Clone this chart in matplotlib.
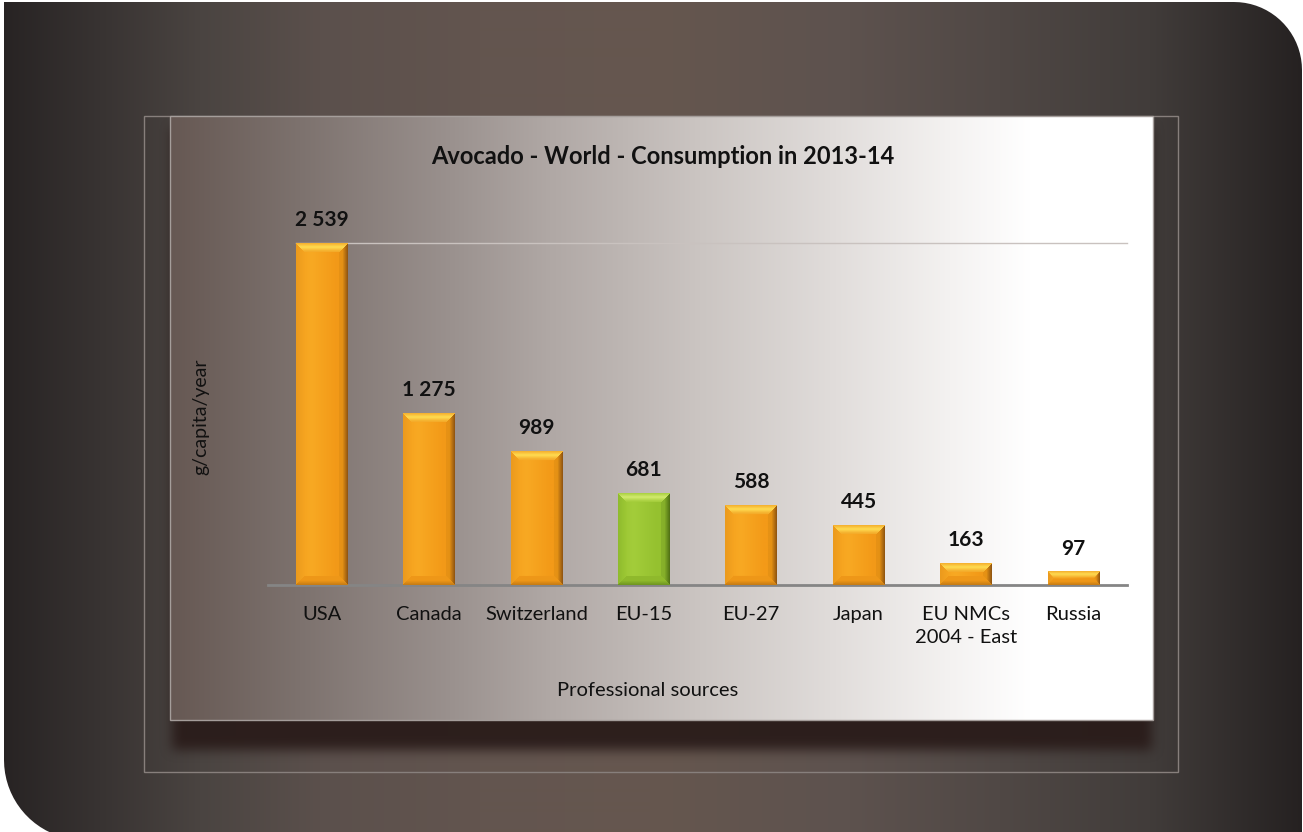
import numpy as np
import matplotlib
matplotlib.use("Agg")
import matplotlib.pyplot as plt
from matplotlib.path import Path
from matplotlib.patches import PathPatch, Rectangle
from matplotlib.colors import to_rgb

# ---------------- data ----------------
categories = ["USA", "Canada", "Switzerland", "EU-15", "EU-27", "Japan",
              "EU NMCs\n2004 - East", "Russia"]
values = [2539, 1275, 989, 681, 588, 445, 163, 97]
highlight = "EU-15"
title = "Avocado - World - Consumption in 2013-14"
ylabel = "g/capita/year"
xlabel = "Professional sources"

FONT = "Lato"
W_PX, H_PX = 1303, 832
fig = plt.figure(figsize=(W_PX / 100, H_PX / 100), dpi=100)
fig.patch.set_facecolor("white")

# ---------------- background layer (pixel coordinates) ----------------
bg = fig.add_axes([0, 0, 1, 1], zorder=0)
bg.set_xlim(0, W_PX)
bg.set_ylim(H_PX, 0)
bg.axis("off")


def hgrad(stops, width):
    xs = np.array([s[0] for s in stops], float)
    cols = np.array([to_rgb(s[1]) for s in stops])
    x = np.arange(width)
    out = np.stack([np.interp(x, xs, cols[:, k]) for k in range(3)], axis=-1)
    return out[None, :, :]


# outer rounded shape (top-right and bottom-left corners rounded)
L, T, R, B = 4, 2, 1302, 840
r1, r2 = 68, 80
verts = [(L, T), (R - r1, T)]
a = np.linspace(-np.pi / 2, 0, 20)
verts += [(R - r1 + r1 * np.cos(t), T + r1 + r1 * np.sin(t)) for t in a]
verts += [(R, B), (L + r2, B)]
a = np.linspace(np.pi / 2, np.pi, 20)
verts += [(L + r2 + r2 * np.cos(t), B - r2 + r2 * np.sin(t)) for t in a]
verts += [(L, T), (L, T)]
codes = [Path.MOVETO] + [Path.LINETO] * (len(verts) - 2) + [Path.CLOSEPOLY]
shape = PathPatch(Path(verts, codes), facecolor="none", edgecolor="none")
bg.add_patch(shape)
outer = hgrad([(0, "#272323"), (100, "#383332"), (200, "#4a4441"),
               (320, "#5b504c"), (480, "#63554f"), (650, "#66574f"),
               (850, "#5d524e"), (1000, "#504845"), (1150, "#413c3a"),
               (1303, "#252121")], W_PX)
im = bg.imshow(outer, extent=(0, W_PX, 840, 0), aspect="auto", zorder=0,
               interpolation="bilinear")
im.set_clip_path(shape)

# frame
bg.add_patch(Rectangle((144, 116), 1034, 656, fill=False, ec="#877f7c",
                       lw=1, zorder=1))

# shadow below panel
sx0, sy0, sx1, sy1 = 120, 100, 1200, 800
sh = np.zeros((sy1 - sy0, sx1 - sx0))
sh[128 - sy0:750 - sy0, 172 - sx0:1152 - sx0] = 1.0


def blur(arr, k, n=3):
    for _ in range(n):
        for ax_ in (0, 1):
            c = np.cumsum(np.pad(arr, [(k, k) if i == ax_ else (0, 0)
                                       for i in range(2)], mode="edge"),
                          axis=ax_)
            c = np.insert(c, 0, 0, axis=ax_)
            if ax_ == 0:
                arr = (c[2 * k + 1:, :] - c[:-2 * k - 1, :]) / (2 * k + 1)
            else:
                arr = (c[:, 2 * k + 1:] - c[:, :-2 * k - 1]) / (2 * k + 1)
    return arr


sh = blur(sh, 5)
rgba = np.zeros(sh.shape + (4,))
rgba[..., :3] = to_rgb("#2a1c1a")
rgba[..., 3] = sh * 0.95
bg.imshow(rgba, extent=(sx0, sx1, sy1, sy0), aspect="auto", zorder=1,
          interpolation="bilinear")

# panel
panel = hgrad([(0, "#665853"), (130, "#7d726e"), (280, "#9a918e"),
               (380, "#b0a8a5"), (530, "#cbc5c2"), (660, "#e0dcda"),
               (780, "#f4f2f1"), (860, "#ffffff"), (983, "#ffffff")], 983)
bg.imshow(panel, extent=(170, 1153, 720, 116), aspect="auto", zorder=2,
          interpolation="bilinear")
bg.add_patch(Rectangle((170, 116), 983, 604, fill=False, ec="#a59e9b",
                       lw=1, zorder=2))

# texts
bg.text(663, 156, title, ha="center", va="center", fontsize=17,
        fontweight="bold", family=FONT, color="#111111", zorder=5)
bg.text(201, 417, ylabel, ha="center", va="center", rotation=90,
        fontsize=14, family=FONT, color="#111111", zorder=5)
bg.text(648, 691, xlabel, ha="center", va="center", fontsize=14.5,
        family=FONT, color="#111111", zorder=5)

# ---------------- chart axes ----------------
ax = fig.add_axes([268 / W_PX, (H_PX - 585) / H_PX, (1127 - 268) / W_PX,
                   (585 - 243) / H_PX], zorder=3)
ax.patch.set_visible(False)
n = len(categories)
xlim = (-0.5, n - 0.5)
ylim = (0, max(values))
bar_w = 0.48

ax_w_px = (1127 - 268)
ax_h_px = (585 - 243)
ppx = ax_w_px / (xlim[1] - xlim[0])
ppy = ax_h_px / (ylim[1] - ylim[0])


def mix(c1, c2, t):
    t = np.clip(t, 0, 1)[..., None]
    return np.array(to_rgb(c1)) * (1 - t) + np.array(to_rgb(c2)) * t


def bevel_img(Wp, Hp, pal, b=9):
    jj, ii = np.meshgrid(np.arange(Wp) + 0.5, np.arange(Hp) + 0.5)
    dl, dr, dt, db = jj, Wp - jj, ii, Hp - ii
    bb = min(b, Hp / 2.0, Wp / 2.0)
    u = jj / Wp
    img = mix(pal["face_l"], pal["face"], np.abs(u - 0.3) * 2.2)
    m = np.minimum(np.minimum(dl, dr), np.minimum(dt, db))
    sel = m < bb
    top = sel & (dt == m)
    bot = sel & (db == m) & ~top
    rgt = sel & (dr == m) & ~top & ~bot
    lft = sel & (dl == m) & ~top & ~bot & ~rgt
    tt = dt / bb
    topc = mix(pal["top_edge"], pal["top_mid"], 1 - np.abs(tt - 0.45) * 2.2)
    img[top] = topc[top]
    img[bot] = mix(pal["bot_edge"], pal["bot"], db / bb * 2)[bot]
    img[rgt] = mix(pal["rgt_edge"], pal["rgt"], dr / bb * 1.6)[rgt]
    img[lft] = mix(pal["lft_edge"], pal["lft"], dl / bb)[lft]
    return img


orange = dict(face="#f39a18", face_l="#f8a923", top_edge="#f4ad2c",
              top_mid="#ffdc52", bot="#ee9718", bot_edge="#c47a14",
              rgt="#e69215", rgt_edge="#8c5210", lft="#f6a420",
              lft_edge="#eb9a1d")
green = dict(face="#95c12f", face_l="#a3cd3a", top_edge="#a7cf3e",
             top_mid="#d2ea6e", bot="#8fba2c", bot_edge="#6e9420",
             rgt="#86b02a", rgt_edge="#4d6e14", lft="#9ec935",
             lft_edge="#8fbb2d")

for i, (cat, v) in enumerate(zip(categories, values)):
    pal = green if cat == highlight else orange
    Wp = int(round(bar_w * ppx))
    Hp = max(2, int(round(v * ppy)))
    img = bevel_img(Wp, Hp, pal)
    ax.imshow(img, extent=(i - bar_w / 2, i + bar_w / 2, 0, v),
              origin="upper", aspect="auto", interpolation="bilinear",
              zorder=3)
    ax.annotate(f"{v:,}".replace(",", " "), (i, v), xytext=(0, 12.5),
                textcoords="offset points", ha="center", va="baseline",
                fontsize=15, fontweight="bold", family=FONT,
                color="#111111", zorder=5)

ax.set_xlim(*xlim)
ax.set_ylim(*ylim)
ax.set_aspect("auto")
ax.set_xticks(range(n))
ax.set_xticklabels(categories, fontsize=14.5, family=FONT, color="#111111",
                   linespacing=1.45, va="top")
ax.tick_params(axis="x", length=0, pad=15)
ax.set_yticks([])
for s in ("left", "right"):
    ax.spines[s].set_visible(False)
ax.spines["bottom"].set_color("#858585")
ax.spines["bottom"].set_linewidth(2)
ax.spines["top"].set_color("#c9c2bf")
ax.spines["top"].set_linewidth(1)
ax.spines["top"].set_bounds(-bar_w / 2, xlim[1])

fig.savefig("out.png", dpi=100, facecolor=fig.get_facecolor())
